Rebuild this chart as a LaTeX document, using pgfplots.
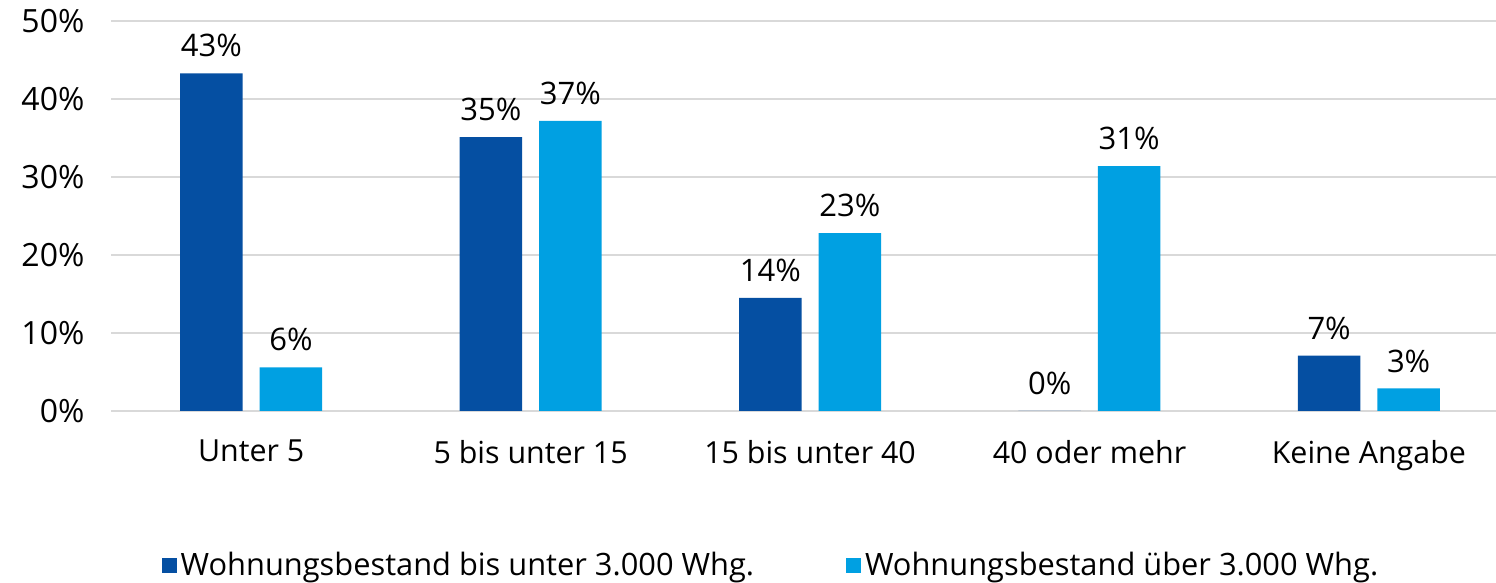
\documentclass[border=0pt]{standalone}
\usepackage{pgfplots}
\pgfplotsset{compat=1.18}
\usepackage{fontspec}
\setmainfont{Open Sans}
\definecolor{dunkel}{RGB}{5,79,162}
\definecolor{hell}{RGB}{0,160,226}
\definecolor{gitter}{RGB}{217,217,217}
\begin{document}
\begin{tikzpicture}[x=1pt,y=1pt]
\useasboundingbox (0,0) rectangle (748,291.5);
\begin{axis}[
  at={(55.75pt,86pt)}, anchor=south west,
  scale only axis, width=692.25pt, height=195pt,
  ybar=8.5pt, bar width=31.25pt,
  xmin=-0.5, xmax=4.455, ymin=0, ymax=50,
  xtick={0,1,2,3,4},
  xticklabels={Unter 5, 5 bis unter 15, 15 bis unter 40, 40 oder mehr, Keine Angabe},
  ytick={0,10,20,30,40,50},
  /pgf/number format/assume math mode=true,
  yticklabel={\pgfmathprintnumber{\tick}\%},
  axis line style={draw=none},
  major tick length=0pt,
  ymajorgrids, grid style={gitter, line width=1pt},
  xticklabel style={font=\fontsize{15.2}{18}\selectfont, yshift=-11pt},
  yticklabel style={font=\fontsize{16}{19}\selectfont, xshift=-10pt},
  point meta=explicit symbolic,
  nodes near coords={\pgfplotspointmeta\%},
  every node near coord/.append style={font=\fontsize{15.5}{18}\selectfont, text=black, yshift=4.5pt},
  legend columns=2,
  legend style={at={(0.477,-0.395)}, anchor=center, draw=none, fill=none,
    font=\fontsize{15.4}{18}\selectfont,
    /tikz/every even column/.append style={column sep=44pt}},
  legend image code/.code={\fill[#1] (-3pt,-3.75pt) rectangle (4.5pt,3.75pt);},
  clip=false,
]
\addplot[fill=dunkel, draw=none] table[x=x, y=y, meta=lab] {
x y lab
0 43.3 43
1 35.1 35
2 14.5 14
3 0 0
4 7.1 7
};
\addplot[fill=hell, draw=none] table[x=x, y=y, meta=lab] {
x y lab
0 5.6 6
1 37.2 37
2 22.8 23
3 31.4 31
4 2.9 3
};
\legend{Wohnungsbestand bis unter 3.000 Whg., Wohnungsbestand über 3.000 Whg.}
\end{axis}
\end{tikzpicture}
\end{document}
